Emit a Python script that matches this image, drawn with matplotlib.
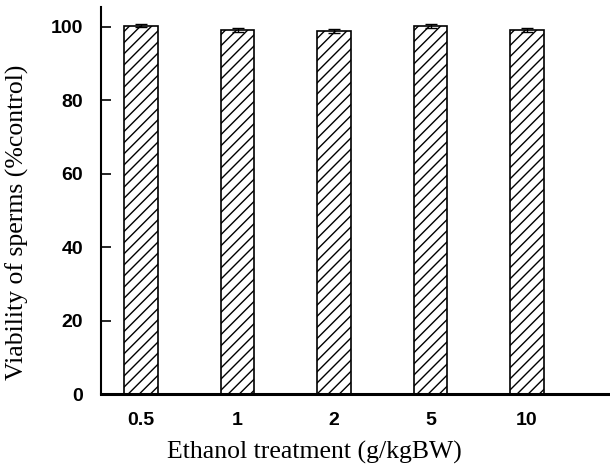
import numpy as np
import matplotlib.pyplot as plt

doses = ['0.5', '1', '2', '5', '10']
viability = [100.3, 99.1, 98.9, 100.2, 99.2]
sem = [0.4, 0.6, 0.6, 0.5, 0.5]

fig = plt.figure(figsize=(6.1, 4.7), dpi=100)
ax = fig.add_axes([0.1656, 0.1617, 0.8344, 0.8233])

x = np.arange(len(doses))
ax.bar(x, viability, width=0.35, color='white', edgecolor='black',
       hatch='///', linewidth=1.2, zorder=2)
ax.errorbar(x, viability, yerr=sem, fmt='none', ecolor='black',
            elinewidth=1, capsize=4, capthick=1, zorder=3)

ax.set_xlim(-0.415, 4.86)
ax.set_ylim(0, 105.4)
ax.set_yticks([0, 20, 40, 60, 80, 100])
ax.set_xticks(x)
ax.set_xticklabels(doses)

for s in ['top', 'right']:
    ax.spines[s].set_visible(False)
ax.spines['left'].set_linewidth(1.5)
ax.spines['bottom'].set_linewidth(2.2)

ax.tick_params(axis='y', direction='in', length=7, width=1.2, pad=13)
ax.tick_params(axis='x', length=0, pad=13)
for lab in ax.get_xticklabels() + ax.get_yticklabels():
    lab.set_fontfamily('Liberation Sans')
    lab.set_fontweight('bold')
    lab.set_fontsize(14)

# axis titles sit a bit off-centre in the original
fig.text(314 / 610, 1 - 452 / 470, 'Ethanol treatment (g/kgBW)',
         family='Liberation Serif', fontsize=18.5, ha='center', va='center')
fig.text(17 / 610, 1 - 222 / 470, 'Viability of sperms (%control)',
         family='Liberation Serif', fontsize=18.5, rotation=90,
         ha='center', va='center')

fig.savefig('out.png', dpi=100)
